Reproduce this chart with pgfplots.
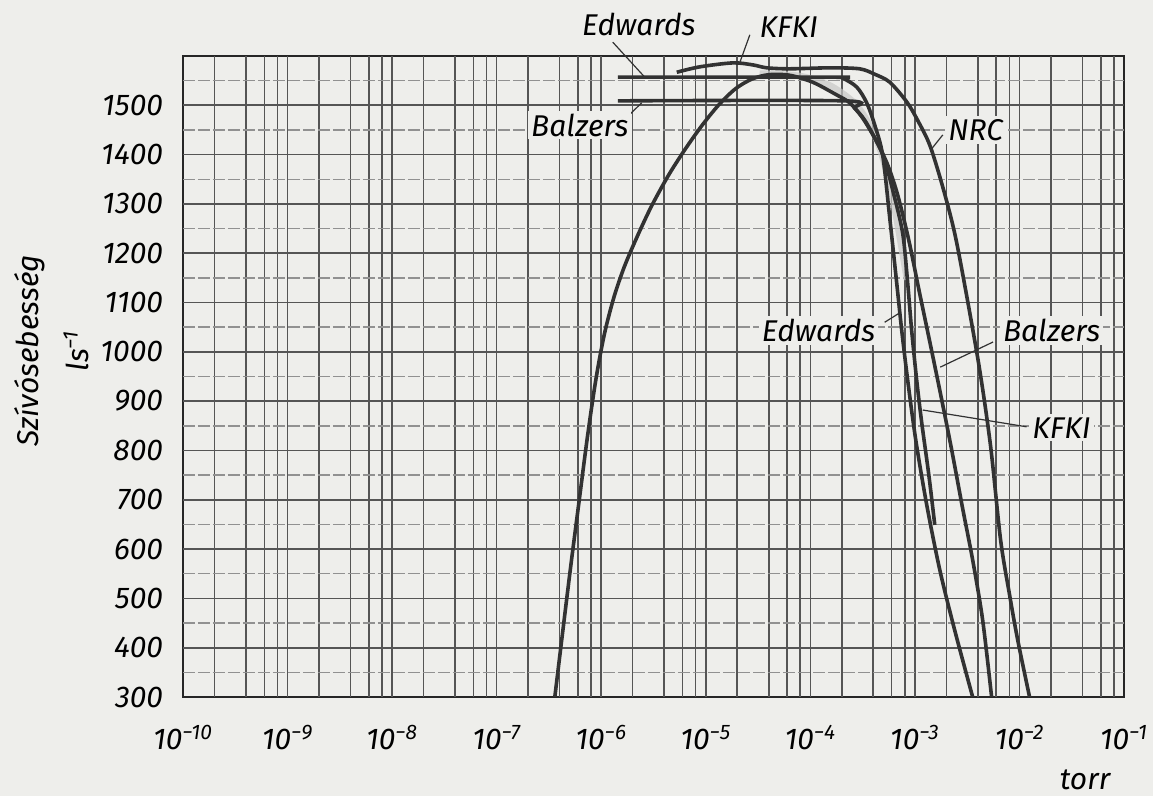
\documentclass[border=0pt]{standalone}
\usepackage{fontspec}
\setmainfont{Fira Sans}
\usepackage{pgfplots}
\pgfplotsset{compat=1.18}
\usetikzlibrary{backgrounds}
\definecolor{paper}{RGB}{238,238,235}
\definecolor{ink}{RGB}{50,50,50}
\definecolor{gridc}{RGB}{85,85,85}
\definecolor{hil}{RGB}{200,200,198}

\pgfplotstableread{
x S
3.60e-7 300
4.27e-7 430
5.13e-7 568
6.17e-7 700
7.41e-7 830
8.91e-7 945
1.07e-6 1035
1.32e-6 1110
1.66e-6 1172
2.19e-6 1232
3.02e-6 1295
4.37e-6 1357
6.31e-6 1410
9.12e-6 1458
1.32e-5 1500
1.91e-5 1533
2.75e-5 1553
3.98e-5 1562
6.31e-5 1561
1.05e-4 1547
1.79e-4 1521
2.38e-4 1505
3.17e-4 1474
4.32e-4 1426
5.14e-4 1389
6.14e-4 1328
7.64e-4 1241
8.53e-4 1140
9.31e-4 1044
1.04e-3 943
1.16e-3 858
1.36e-3 750
1.55e-3 649
}\bell

\pgfplotstableread{
x S
1.44e-6 1557
1.71e-4 1557
2.04e-4 1555
2.78e-4 1537
3.46e-4 1505
4.13e-4 1460
4.92e-4 1399
5.74e-4 1273
6.70e-4 1140
7.48e-4 1044
8.53e-4 943
1.02e-3 821
1.30e-3 689
1.73e-3 558
2.40e-3 436
3.57e-3 300
}\edwards

\pgfplotstableread{
x S
1.44e-6 1509
2.13e-4 1509
2.65e-4 1494
3.31e-4 1470
4.32e-4 1426
5.50e-4 1379
6.85e-4 1318
8.73e-4 1227
1.11e-3 1119
1.39e-3 1020
1.77e-3 912
2.25e-3 801
2.86e-3 683
3.57e-3 578
4.45e-3 456
5.42e-3 300
}\balzers

\pgfplotstableread{
x S
5.28e-6 1567
8.77e-6 1578
1.81e-5 1586
2.81e-5 1582
3.83e-5 1576
6.35e-5 1574
1.53e-4 1576
2.96e-4 1574
4.13e-4 1563
5.74e-4 1547
8.36e-4 1507
1.06e-3 1470
1.39e-3 1419
1.85e-3 1334
2.40e-3 1241
3.06e-3 1125
4.17e-3 963
5.31e-3 807
6.61e-3 618
8.05e-3 507
9.62e-3 416
1.25e-2 300
}\nrc

\pgfplotstableread{
x S
3.28e-5 1565
7.93e-5 1560
1.53e-4 1541
2.65e-4 1505
3.70e-4 1460
4.82e-4 1399
6.14e-4 1308
7.48e-4 1207
8.36e-4 1146
}\highlight

\begin{document}
\begin{tikzpicture}[font=\itshape\fontsize{15}{18}\selectfont]
\begin{axis}[
  name=ax,
  scale only axis, width=470.5pt, height=320.5pt,
  xmode=log, log basis x=10,
  xmin=1e-10, xmax=1e-1, ymin=300, ymax=1600,
  clip=false,
  xtick={1e-10,1e-9,1e-8,1e-7,1e-6,1e-5,1e-4,1e-3,1e-2,1e-1},
  xticklabels={10\textsuperscript{−10},10\textsuperscript{−9},10\textsuperscript{−8},10\textsuperscript{−7},10\textsuperscript{−6},10\textsuperscript{−5},10\textsuperscript{−4},10\textsuperscript{−3},10\textsuperscript{−2},10\textsuperscript{−1}},
  ytick={300,400,500,600,700,800,900,1000,1100,1200,1300,1400,1500},
  yticklabels={300,400,500,600,700,800,900,1000,1100,1200,1300,1400,1500},
  minor xtick={}, minor ytick={},
  grid=none,
  tick style={draw=none},
  axis line style={black!85, line width=1pt},
  ticklabel style={font=\itshape\fontsize{15}{18}\selectfont},
  yticklabel style={xshift=-6.5pt},
  xticklabel style={yshift=-10.5pt},
  xlabel={torr},
  xlabel style={at={(rel axis cs:0.9586,-0.1295)}, anchor=center},
  ylabel={Szívósebesség\\[7pt]ls\textsuperscript{−1}},
  ylabel style={at={(rel axis cs:-0.14,0.54)}, anchor=center, align=center},
  label style={font=\itshape\fontsize{15}{18}\selectfont},
]
% grid lines
\pgfplotsinvokeforeach{1e-9,1e-8,1e-7,1e-6,1e-5,1e-4,1e-3,1e-2,2e-10,4e-10,6e-10,8e-10,2e-9,4e-9,6e-9,8e-9,2e-8,4e-8,6e-8,8e-8,2e-7,4e-7,6e-7,8e-7,2e-6,4e-6,6e-6,8e-6,2e-5,4e-5,6e-5,8e-5,2e-4,4e-4,6e-4,8e-4,2e-3,4e-3,6e-3,8e-3,2e-2,4e-2,6e-2,8e-2}{
  \draw[gridc, line width=0.8pt] (axis cs:#1,300) -- (axis cs:#1,1600);
}
\pgfplotsinvokeforeach{400,500,600,700,800,900,1000,1100,1200,1300,1400,1500}{
  \draw[gridc, line width=0.85pt] (axis cs:1e-10,#1) -- (axis cs:1e-1,#1);
}
\pgfplotsinvokeforeach{350,450,550,650,750,850,950,1050,1150,1250,1350,1450,1550}{
  \draw[gridc!65, line width=0.7pt, dash pattern=on 6pt off 1.5pt] (axis cs:1e-10,#1) -- (axis cs:1e-1,#1);
}

\addplot[hil, line width=3pt, smooth, opacity=0.7] table[x=x,y=S] {\highlight};
\addplot[ink, line width=1.8pt, smooth] table[x=x,y=S] {\bell};
\addplot[ink, line width=1.8pt, smooth] table[x=x,y=S] {\edwards};
\addplot[ink, line width=1.8pt, smooth] table[x=x,y=S] {\balzers};
\addplot[ink, line width=1.8pt, smooth] table[x=x,y=S] {\nrc};

% leader lines
\draw[ink, line width=0.6pt] (axis cs:1.29e-6,1628) -- (axis cs:2.61e-6,1557);
\draw[ink, line width=0.6pt] (axis cs:2.64e-5,1643) -- (axis cs:2.11e-5,1586);
\draw[ink, line width=0.6pt] (axis cs:1.76e-6,1476) -- (axis cs:2.44e-6,1505);
\draw[ink, line width=0.6pt] (axis cs:1.85e-3,1440) -- (axis cs:1.45e-3,1412);
\draw[ink, line width=0.6pt] (axis cs:5.14e-4,1060) -- (axis cs:7.16e-4,1079);
\draw[ink, line width=0.6pt] (axis cs:5.6e-3,1020) -- (axis cs:1.75e-3,969);
\draw[ink, line width=0.6pt] (axis cs:1.17e-2,848) -- (axis cs:1.19e-3,882);

% labels
\node[fill=paper, inner sep=1.5pt] at (axis cs:2.29e-6,1663) {Edwards};
\node[fill=paper, inner sep=1.5pt] at (axis cs:6.21e-5,1659) {KFKI};
\node[fill=paper, inner sep=1.5pt] at (axis cs:6.24e-7,1460) {Balzers};
\node[fill=paper, inner sep=1.5pt] at (axis cs:3.81e-3,1450) {NRC};
\node[fill=paper, inner sep=1.5pt] at (axis cs:1.20e-4,1044) {Edwards};
\node[fill=paper, inner sep=1.5pt] at (axis cs:2.03e-2,1044) {Balzers};
\node[fill=paper, inner sep=1.5pt] at (axis cs:2.53e-2,846) {KFKI};
\end{axis}
\pgfresetboundingbox
\path ([shift={(-91.5pt,-49.5pt)}]ax.south west) rectangle ([shift={(14.5pt,28pt)}]ax.north east);
\begin{scope}[on background layer]
\fill[paper] ([shift={(-91.5pt,-49.5pt)}]ax.south west) rectangle ([shift={(14.5pt,28pt)}]ax.north east);
\end{scope}
\end{tikzpicture}
\end{document}
